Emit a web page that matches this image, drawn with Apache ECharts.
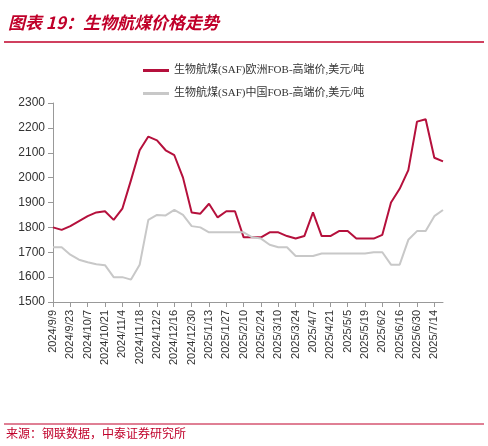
<!DOCTYPE html>
<html><head><meta charset="utf-8">
<script src="https://cdn.jsdelivr.net/npm/echarts@6/dist/echarts.min.js"></script>
<style>body{margin:0;background:#fff}#c{width:488px;height:446px}</style>
</head><body><div id="c"></div>
<script>
const startDate = [2024, 9, 9];
const weekCount = 46;
const europe = [1800,1790,1805,1825,1845,1860,1865,1830,1875,1990,2110,2165,2150,2110,2090,2000,1860,1855,1895,1840,1865,1865,1760,1760,1760,1780,1780,1765,1755,1765,1860,1765,1765,1785,1785,1755,1755,1755,1770,1900,1955,2030,2225,2235,2080,2065];
const china = [1720,1720,1690,1670,1660,1652,1648,1600,1600,1590,1650,1830,1850,1848,1870,1850,1805,1800,1780,1780,1780,1780,1780,1760,1755,1730,1720,1720,1685,1685,1685,1695,1695,1695,1695,1695,1695,1700,1700,1650,1650,1750,1785,1785,1845,1870];
const seriesNames = ['生物航煤(SAF)欧洲FOB-高端价,美元/吨','生物航煤(SAF)中国FOB-高端价,美元/吨'];
const yTicks = {min:1500, max:2300, interval:100};
const categories = [];
for (let i = 0; i < weekCount; i++) {
  const d = new Date(startDate[0], startDate[1]-1, startDate[2] + 7*i);
  categories.push(d.getFullYear() + '/' + (d.getMonth()+1) + '/' + d.getDate());
}
const chart = echarts.init(document.getElementById('c'));
const F = '"Liberation Serif","Noto Sans CJK SC",serif';
chart.setOption({
  animation:false,
  graphic:[
    {type:'text', left:8, top:14, style:{text:'图表 19：生物航煤价格走势', fill:'#c0002a', font:'italic bold 17px "Noto Sans CJK SC",sans-serif'}},
    {type:'line', shape:{x1:4,y1:42,x2:484,y2:42}, style:{stroke:'#c0002a', lineWidth:1.5}},
    {type:'line', shape:{x1:4,y1:424,x2:484,y2:424}, style:{stroke:'#c0002a', lineWidth:1}},
    {type:'text', left:6, top:427, style:{text:'来源：钢联数据，中泰证券研究所', fill:'#c0002a', font:'12px "Noto Sans CJK SC",sans-serif'}}
  ],
  legend:{orient:'vertical', left:138, top:60, itemGap:12, itemWidth:26, itemHeight:3,
    icon:'rect', textStyle:{fontFamily:F, fontSize:11, color:'#333'}, data:seriesNames},
  grid:{left:53, right:45, top:103, bottom:144},
  xAxis:{type:'category', data:categories, boundaryGap:false,
    axisLine:{lineStyle:{color:'#999'}},
    axisTick:{interval:1, lineStyle:{color:'#999'}},
    axisLabel:{interval:1, rotate:90, fontFamily:'"Liberation Sans",sans-serif', fontSize:11, color:'#333'}},
  yAxis:{type:'value', min:yTicks.min, max:yTicks.max, interval:yTicks.interval,
    splitLine:{show:false}, axisLine:{show:true, lineStyle:{color:'#999'}},
    axisTick:{show:true, lineStyle:{color:'#999'}},
    axisLabel:{formatter:v=>String(v), fontFamily:'"Liberation Sans",sans-serif', fontSize:12, color:'#333'}},
  series:[
    {name:seriesNames[0], type:'line', data:europe, symbol:'none', lineStyle:{color:'#b5103c', width:2}, itemStyle:{color:'#b5103c'}},
    {name:seriesNames[1], type:'line', data:china, symbol:'none', lineStyle:{color:'#c8c8c8', width:2}, itemStyle:{color:'#c8c8c8'}}
  ]
});
</script></body></html>
